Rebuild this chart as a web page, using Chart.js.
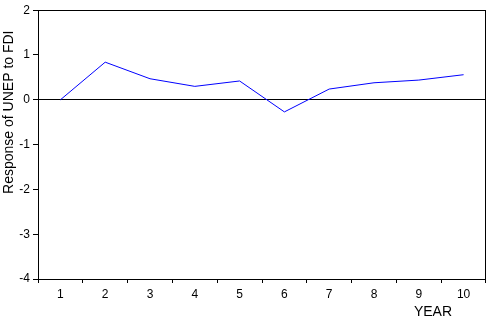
<!DOCTYPE html>
<html><head><meta charset="utf-8">
<script src="https://cdn.jsdelivr.net/npm/chart.js@4"></script>
<style>html,body{margin:0;padding:0;background:#fff}#wrap{width:490px;height:319px}</style>
</head><body><div id="wrap"><canvas id="c" width="490" height="319"></canvas></div>
<script>
const categories = ['1','2','3','4','5','6','7','8','9','10'];
const responseValues = [0.0, 0.84, 0.47, 0.30, 0.42, -0.27, 0.24, 0.38, 0.44, 0.56];
const yTicks = [-4, -3, -2, -1, 0, 1, 2];
const yTitle = 'Response of UNEP to FDI';
const xTitle = 'YEAR';
const FONT = "'Liberation Sans', Arial, sans-serif";

const framePlugin = {
  id: 'frame',
  afterDraw(chart) {
    const {ctx, chartArea: a} = chart;
    const l = Math.round(a.left), t = Math.round(a.top), r = Math.round(a.right), b = Math.round(a.bottom);
    ctx.save();
    ctx.strokeStyle = '#000';
    ctx.lineWidth = 1;
    ctx.strokeRect(l + 0.5, t + 0.5, r - l - 1, b - t);
    ctx.fillStyle = '#000';
    ctx.font = '14px ' + FONT;
    ctx.textAlign = 'center';
    ctx.textBaseline = 'middle';
    ctx.fillText(xTitle, a.right - 53, 312);
    ctx.translate(9, a.top + 102);
    ctx.rotate(-Math.PI / 2);
    ctx.fillText(yTitle, 0, 0);
    ctx.restore();
  }
};

new Chart(document.getElementById('c'), {
  type: 'line',
  data: {
    labels: categories,
    datasets: [{
      data: responseValues,
      borderColor: '#0000ff',
      borderWidth: 1,
      pointRadius: 0,
      tension: 0,
      fill: false
    }]
  },
  options: {
    responsive: false,
    animation: false,
    devicePixelRatio: 1,
    layout: {padding: {top: 8, right: 4, left: 0, bottom: 0}},
    plugins: {legend: {display: false}, tooltip: {enabled: false}},
    scales: {
      x: {
        type: 'category',
        offset: true,
        grid: {offset: true, drawOnChartArea: false, tickLength: 4, tickColor: '#000', color: '#000'},
        border: {display: false},
        ticks: {color: '#000', font: {family: FONT, size: 12}, padding: 4, maxRotation: 0, autoSkip: false},
        afterFit(s) { s.height = 40; }
      },
      y: {
        min: -4, max: 2,
        afterBuildTicks(s) { s.ticks = yTicks.map(v => ({value: v})); },
        grid: {
          color: c => (c.tick && c.tick.value === 0) ? '#000' : 'rgba(0,0,0,0)',
          tickColor: '#000', tickLength: 5, drawTicks: true
        },
        border: {display: false},
        ticks: {color: '#000', font: {family: FONT, size: 12}, padding: 3},
        afterFit(s) { s.width = 38; }
      }
    }
  },
  plugins: [framePlugin]
});
</script></body></html>
